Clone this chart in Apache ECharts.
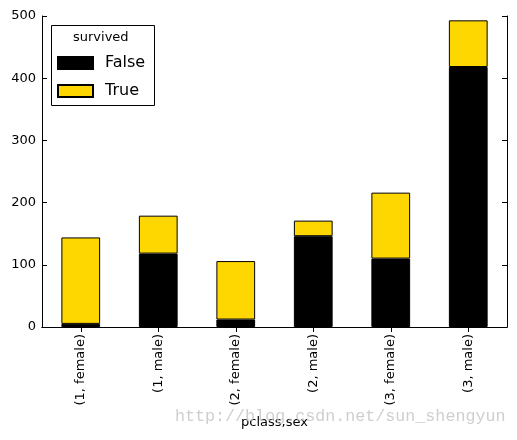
<!DOCTYPE html>
<html><head><meta charset="utf-8">
<script src="https://cdn.jsdelivr.net/npm/echarts@6/dist/echarts.min.js"></script>
<style>html,body{margin:0;padding:0;background:#fff}#c{width:517px;height:440px}</style>
</head><body><div id="c"></div>
<script>
const categories = ['(1, female)', '(1, male)', '(2, female)', '(2, male)', '(3, female)', '(3, male)'];
const diedFalse = [5, 118, 12, 146, 110, 418];
const survivedTrue = [139, 61, 94, 25, 106, 75];
const yTicks = [0, 100, 200, 300, 400, 500];

const F = 'DejaVu Sans';
const chart = echarts.init(document.getElementById('c'), null, {renderer: 'canvas'});
const axLine = {show: true, lineStyle: {color: '#000', width: 1}};
const tick = {show: true, inside: true, length: 5, lineStyle: {color: '#000', width: 1}};
chart.setOption({
  animation: false,
  grid: {left: 42, right: 10, top: 16, bottom: 113},
  legend: {
    orient: 'vertical', left: 57, top: 55, padding: 0, itemWidth: 35, itemHeight: 12, itemGap: 12,
    textStyle: {fontFamily: F, fontSize: 16, color: '#000', padding: [0, 0, 0, 7]},
    data: ['False', 'True'], icon: 'rect'
  },
  xAxis: [{
    type: 'category', data: categories, position: 'bottom',
    axisLine: axLine, axisTick: Object.assign({}, tick, {alignWithLabel: true}),
    axisLabel: {rotate: 90, fontFamily: F, fontSize: 13, color: '#000', margin: 7},
    name: 'pclass,sex', nameLocation: 'middle', nameGap: 89,
    nameTextStyle: {fontFamily: F, fontSize: 13, color: '#000'}
  }, {
    type: 'category', data: categories, position: 'top',
    axisLine: axLine, axisTick: Object.assign({}, tick, {alignWithLabel: true}),
    axisLabel: {show: false}
  }],
  yAxis: [{
    type: 'value', min: 0, max: 500, interval: 100, position: 'left',
    axisLine: axLine, axisTick: tick, splitLine: {show: false},
    axisLabel: {fontFamily: F, fontSize: 13, color: '#000', margin: 6,
      formatter: v => yTicks.includes(v) ? String(v) : ''}
  }, {
    type: 'value', min: 0, max: 500, interval: 100, position: 'right',
    axisLine: axLine, axisTick: tick, splitLine: {show: false}, axisLabel: {show: false}
  }],
  series: [{
    name: 'False', type: 'bar', stack: 's', data: diedFalse, barWidth: '50%',
    itemStyle: {color: '#000', borderColor: '#000', borderWidth: 1}
  }, {
    name: 'True', type: 'bar', stack: 's', data: survivedTrue, barWidth: '50%',
    itemStyle: {color: '#FFD700', borderColor: '#000', borderWidth: 1}
  }],
  graphic: [
    {type: 'rect', left: 51, top: 25, shape: {width: 103, height: 80}, z: 5,
     style: {fill: 'rgba(255,255,255,0)', stroke: '#000', lineWidth: 1}},
    {type: 'text', left: 73, top: 31, z: 6,
     style: {text: 'survived', fontFamily: F, fontSize: 13, fill: '#000'}},
    {type: 'text', left: 175, top: 408, z: 100,
     style: {text: 'http://blog.csdn.net/sun_shengyun', fontFamily: 'Liberation Mono', fontSize: 16.7, fill: 'rgba(195,195,195,0.8)'}}
  ]
});
</script></body></html>
